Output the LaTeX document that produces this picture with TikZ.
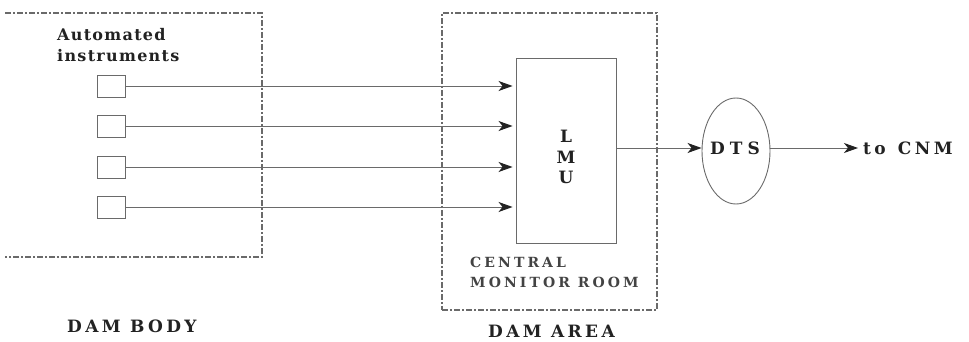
\documentclass[tikz,border=0pt]{standalone}
\usepackage{fontspec}
\setmainfont{DejaVu Serif}
\usetikzlibrary{arrows.meta,shapes.geometric}
\definecolor{ln}{HTML}{6A6A6A}
\definecolor{tx}{HTML}{222222}
\tikzset{
  zone/.style={draw=ln,line width=1.1pt,dash pattern=on 6pt off 2pt on 2pt off 2pt},
  inst/.style={draw=ln,line width=0.9pt,minimum width=28pt,minimum height=22pt,inner sep=0pt},
  sig/.style={draw=ln,line width=0.9pt,-{Stealth[length=14pt,width=10pt,inset=4pt,color=tx]}},
  lower/.style={text=tx,font=\bfseries\fontsize{16}{21}\selectfont\addfontfeature{LetterSpace=8},inner sep=0pt},
  caps/.style={text=tx,font=\bfseries\fontsize{17}{20.5}\selectfont\addfontfeature{LetterSpace=20},inner sep=0pt},
  small/.style={text=tx!85,font=\bfseries\fontsize{14}{20}\selectfont\addfontfeature{LetterSpace=22},inner sep=0pt,align=left}
}
\begin{document}
\begin{tikzpicture}[x=1pt,y=-1pt]
\useasboundingbox (0,0) rectangle (969,342);
% dam body zone (left side open)
\coordinate (b1) at (5,13);
\coordinate (b2) at (262,13);
\coordinate (b3) at (262,257);
\coordinate (b4) at (5,257);
\draw[zone] (b1) -- (b2) -- (b3) -- (b4);
% dam area zone
\node[zone,minimum width=215pt,minimum height=297pt,inner sep=0pt] (area) at (549.5,161.5) {};
% instruments
\node[lower,align=left,anchor=north west] (auto) at (57,28) {Automated\\instruments};
\node[inst] (i1) at (111,86) {};
\node[inst] (i2) at (111,126) {};
\node[inst] (i3) at (111,167) {};
\node[inst] (i4) at (111,207) {};
% LMU
\node[draw=ln,line width=0.9pt,minimum width=100pt,minimum height=185pt,inner sep=0pt] (lmu) at (566,150.5) {};
\node[caps,align=center,font=\bfseries\fontsize{17}{20.5}\selectfont] (lmut) at (566,157) {L\\M\\U};
\foreach \i in {1,2,3,4}{
  \coordinate (t\i) at (lmu.west |- i\i.east);
  \draw[sig] (i\i.east) -- ([xshift=-3pt]t\i);
}
% DTS
\node[ellipse,draw=ln,line width=0.9pt,minimum width=68pt,minimum height=106pt,inner sep=0pt] (dts) at (736,151) {};
\node[caps,font=\bfseries\fontsize{17}{20.5}\selectfont\addfontfeature{LetterSpace=30}] (dtst) at (735,148) {DTS};
\coordinate (cnm) at (858,148);
\draw[sig] (lmu.east |- dtst) -- (dts.west |- dtst);
\draw[sig] (dts.east |- dtst) -- (cnm);
\node[caps,anchor=west] (cnmt) at (863,148) {to\ \,CNM};
% labels
\node[small,anchor=north west] (cmr) at (470,257) {CENTRAL\\MONITOR ROOM};
\node[caps,anchor=west] (body) at (67,326) {DAM BODY};
\node[caps,anchor=west] (areat) at (488,331) {DAM AREA};
\end{tikzpicture}
\end{document}
